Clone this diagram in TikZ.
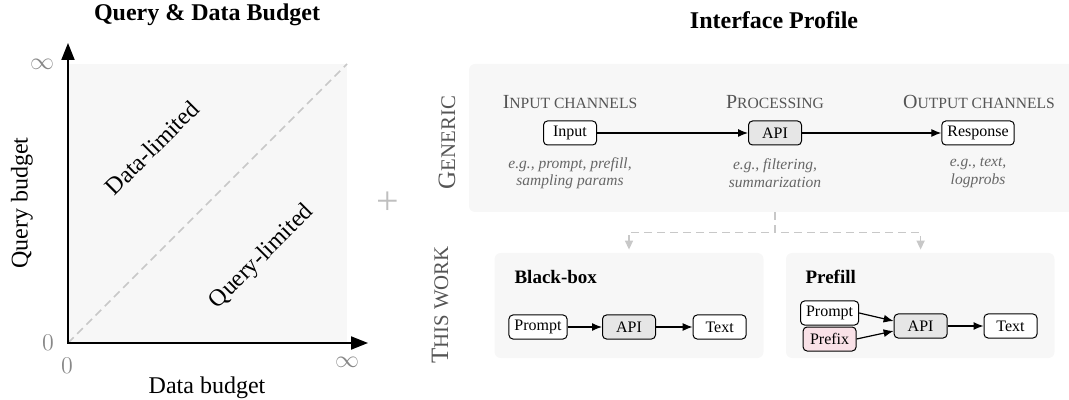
\documentclass[tikz,border=0pt]{standalone}
\usepackage{fontspec}
\setmainfont{Liberation Serif}
\usetikzlibrary{arrows.meta}

\definecolor{panelgray}{HTML}{F7F7F7}
\definecolor{apigray}{HTML}{E6E6E6}
\definecolor{prefixpink}{HTML}{F9E1E7}
\definecolor{labelgray}{HTML}{555555}
\definecolor{notegray}{HTML}{666666}
\definecolor{tickgray}{HTML}{888888}
\definecolor{dashgray}{HTML}{C8C8C8}

\newcommand{\hdsc}[2]{{\fontsize{10}{12}\selectfont #1}{\fontsize{7.8}{9}\selectfont #2}}
\newcommand{\sidesc}[2]{{\fontsize{12.5}{14}\selectfont #1}{\fontsize{10.4}{12}\selectfont #2}}

\tikzset{
  ifbox/.style={draw, fill=white, rounded corners=2pt, line width=0.5pt,
                minimum width=26.5pt, minimum height=12pt,
                inner xsep=2.75pt, inner ysep=1pt, font=\rmfamily\fontsize{8}{9.6}\selectfont},
  apibox/.style={ifbox, fill=apigray},
  prefixbox/.style={ifbox, fill=prefixpink},
  note/.style={notegray, align=center, font=\rmfamily\fontsize{7.75}{8.75}\selectfont\itshape},
  header/.style={labelgray, font=\rmfamily},
  dashline/.style={dashgray, line width=0.75pt, dash pattern=on 4pt off 2.5pt}
}

\begin{document}
\begin{tikzpicture}[x=0.5pt,y=-0.5pt]
\clip (0,0) rectangle (1069,400);

% query & data budget
\fill[panelgray] (68,64) rectangle (347,343);
\coordinate (O) at (68,343);
\coordinate (Ytip) at (68,43);
\coordinate (Xtip) at (368,343);
\coordinate (Corner) at (347,64);
\draw[dashline] (O) -- (Corner);
\draw[{Triangle[length=8.5pt,width=6.5pt]}-{Triangle[length=8.5pt,width=6.5pt]}, line width=1pt] (Ytip) -- (O) -- (Xtip);

\begin{scope}[every node/.style={font=\rmfamily\fontsize{12}{14}\selectfont}]
    \node[font=\rmfamily\fontsize{12}{14}\selectfont\bfseries] (budgettitle) at (207,15) {Query \& Data Budget};
    \node[tickgray] (yinf) at (42,64) {$\infty$};
    \node[tickgray] (yzero) at (48,343) {$0$};
    \node[tickgray] (xzero) at (67,366) {$0$};
    \node[tickgray] (xinf) at (347,362) {$\infty$};
    \node[rotate=90] (ylabel) at (22,203) {Query budget};
    \node (xlabel) at (207,388) {Data budget};
    \node[rotate=45] (datalim) at (152,148) {Data-limited};
    \node[rotate=45] (querylim) at (262,257) {Query-limited};
    \node[font=\rmfamily\fontsize{20}{22}\selectfont, color=black!25] (plus) at (388,203) {+};
    \node[font=\rmfamily\fontsize{12}{14}\selectfont\bfseries] (profiletitle) at (774,20) {Interface Profile};
\end{scope}

% interface profile panels
\begin{scope}[every node/.style={fill=panelgray, rounded corners=3pt, inner sep=0pt}]
    \node[minimum width=304pt, minimum height=74pt] (generic) at (773,138) {};
    \node[minimum width=134.5pt, minimum height=52.5pt] (blackbox) at (629,305.5) {};
    \node[minimum width=134.25pt, minimum height=52.5pt] (prefill) at (920.25,305.5) {};
\end{scope}

\node[rotate=90, labelgray, font=\rmfamily] (genericlabel) at (447,142.5) {\sidesc{G}{ENERIC}};
\node[rotate=90, labelgray, font=\rmfamily] (thisworklabel) at (440,305) {\sidesc{T}{HIS WORK}};

\node[header] (inhead) at (570,102) {\hdsc{I}{NPUT CHANNELS}};
\node[header] (prochead) at (775,102) {\hdsc{P}{ROCESSING}};
\node[header] (outhead) at (979,102) {\hdsc{O}{UTPUT CHANNELS}};

\node[ifbox] (in) at (570,133) {Input};
\node[apibox] (api) at (775,133) {API};
\node[ifbox] (resp) at (978,133) {Response};

\node[note] (innote) at (570,173) {e.g., prompt, prefill,\\sampling params};
\node[note] (procnote) at (775,173) {e.g., filtering,\\summarization};
\node[note] (outnote) at (978,173) {e.g., text,\\logprobs};

\node[anchor=west, font=\rmfamily\fontsize{9.5}{11}\selectfont\bfseries] (bbtitle) at (507.5,277) {Black-box};
\node[anchor=west, font=\rmfamily\fontsize{9.5}{11}\selectfont\bfseries] (pftitle) at (798.5,277) {Prefill};

\node[ifbox] (bbprompt) at (538,327) {Prompt};
\node[apibox] (bbapi) at (629,327) {API};
\node[ifbox] (bbtext) at (719.6,327) {Text};

\node[ifbox] (pfprompt) at (829.6,313) {Prompt};
\node[prefixbox] (pfprefix) at (829.6,339) {Prefix};
\node[apibox] (pfapi) at (920.6,326) {API};
\node[ifbox] (pftext) at (1010.5,326) {Text};

\draw[dashline, -{Triangle[length=4.5pt,width=4pt]}, shorten >=1.5pt] (api |- generic.south) -- ++(0,20) -| (bbapi |- blackbox.north);
\draw[dashline, -{Triangle[length=4.5pt,width=4pt]}, shorten >=1.5pt] (api |- generic.south) -- ++(0,20) -| (pfapi |- prefill.north);

\begin{scope}[>={Latex[length=5pt,width=4pt]},
              every edge/.style={draw, line width=0.6pt}]
    \path [->] (in) edge (api);
    \path [->] (api) edge (resp);
    \path [->] (bbprompt) edge (bbapi);
    \path [->] (bbapi) edge (bbtext);
    \path [->] (pfprompt.east) edge ([yshift=2.5pt]pfapi.west);
    \path [->] (pfprefix.east) edge ([yshift=-2.5pt]pfapi.west);
    \path [->] (pfapi) edge (pftext);
\end{scope}
\end{tikzpicture}
\end{document}
